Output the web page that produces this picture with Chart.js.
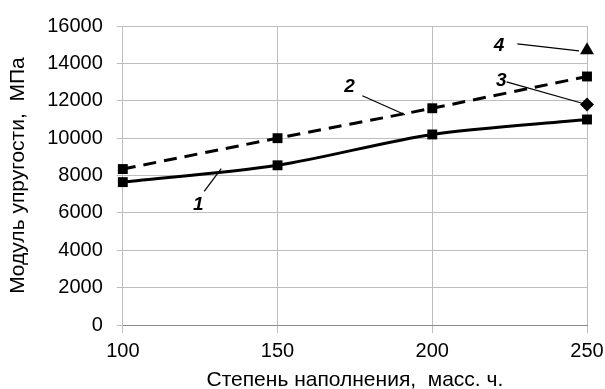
<!DOCTYPE html>
<html>
<head>
<meta charset="utf-8">
<script src="https://cdn.jsdelivr.net/npm/chart.js@4"></script>
<style>
  html, body { margin: 0; padding: 0; background: #fff; }
  #wrap { width: 605px; height: 389px; }
</style>
</head>
<body>
<div id="wrap"><canvas id="c"></canvas></div>
<script>
/* ── данные ── */
var fillLevels = [100, 150, 200, 250];
var curve1 = [7650, 8550, 10200, 11000];
var curve2 = [8350, 10000, 11600, 13300];
var point3X = [250];
var point3 = [11800];
var point4X = [250];
var point4 = [14700];
var yTicks = [0, 2000, 4000, 6000, 8000, 10000, 12000, 14000, 16000];

// подписи кривых: текст, позиция текста и выноска (в единицах осей)
var curveLabels = [
  { text: '1', x: 124.4, y: 6450, from: [126.3, 7150], to: [131.8, 8370] },
  { text: '2', x: 173.3, y: 12750, from: [177.4, 12270], to: [191.2, 11250] },
  { text: '3', x: 222.3, y: 13050, from: [224.0, 13010], to: [249.0, 11840] },
  { text: '4', x: 221.6, y: 14950, from: [227.5, 15040], to: [247.4, 14670] }
];

function toXY(xs, ys) {
  return xs.map(function(x, i) { return { x: x, y: ys[i] }; });
}

var FONT = "'Liberation Sans', Arial, sans-serif";
var GRID = '#bdbdbd';

/* ── подписи 1–4 с выносками ── */
var labelPlugin = {
  id: 'curveLabels',
  afterDatasetsDraw: function(chart) {
    var ctx = chart.ctx, sx = chart.scales.x, sy = chart.scales.y;
    ctx.save();
    ctx.strokeStyle = '#000';
    ctx.lineWidth = 1.2;
    ctx.fillStyle = '#000';
    ctx.font = "italic bold 19px " + FONT;
    ctx.textAlign = 'center';
    ctx.textBaseline = 'middle';
    curveLabels.forEach(function(l) {
      ctx.beginPath();
      ctx.moveTo(sx.getPixelForValue(l.from[0]), sy.getPixelForValue(l.from[1]));
      ctx.lineTo(sx.getPixelForValue(l.to[0]), sy.getPixelForValue(l.to[1]));
      ctx.stroke();
      ctx.fillText(l.text, sx.getPixelForValue(l.x), sy.getPixelForValue(l.y));
    });
    ctx.restore();
  }
};

new Chart(document.getElementById('c').getContext('2d'), {
  type: 'line',
  data: {
    datasets: [{
      label: '1',
      data: toXY(fillLevels, curve1),
      borderColor: '#000', backgroundColor: '#000',
      borderWidth: 3, tension: 0.3, clip: false,
      pointStyle: 'rect', pointRadius: 7, pointBorderWidth: 0
    }, {
      label: '2',
      data: toXY(fillLevels, curve2),
      borderColor: '#000', backgroundColor: '#000',
      borderWidth: 3, tension: 0.15, borderDash: [13, 8], clip: false,
      pointStyle: 'rect', pointRadius: 7, pointBorderWidth: 0
    }, {
      label: '3',
      data: toXY(point3X, point3),
      borderColor: '#000', backgroundColor: '#000',
      showLine: false, clip: false,
      pointStyle: 'rectRot', pointRadius: 7, pointBorderWidth: 0
    }, {
      label: '4',
      data: toXY(point4X, point4),
      borderColor: '#000', backgroundColor: '#000',
      showLine: false, clip: false,
      pointStyle: 'triangle', pointRadius: 8, pointBorderWidth: 0
    }]
  },
  options: {
    responsive: true,
    maintainAspectRatio: false,
    animation: false,
    layout: { padding: { top: 12, right: 0, left: 6, bottom: 0 } },
    plugins: { legend: { display: false }, tooltip: { enabled: false } },
    scales: {
      x: {
        type: 'linear', min: 100, max: 250,
        afterBuildTicks: function(axis) {
          axis.ticks = fillLevels.map(function(v) { return { value: v }; });
        },
        afterFit: function(axis) {
          // подпись «250» немного выходит за край, как в оригинале
          axis.paddingRight = 18;
        },
        grid: { color: GRID, tickLength: 8 },
        border: { color: '#8c8c8c' },
        ticks: {
          color: '#000', font: { family: FONT, size: 20, lineHeight: 1.0 }, padding: 8, maxRotation: 0,
          callback: function(v) { return String(v); }
        },
        title: {
          display: true, text: 'Степень наполнения,  масс. ч.',
          color: '#000', font: { family: FONT, size: 21, lineHeight: 0.85 }, padding: { top: 2, bottom: 0 }
        }
      },
      y: {
        min: 0, max: 16000,
        afterBuildTicks: function(axis) {
          axis.ticks = yTicks.map(function(v) { return { value: v }; });
        },
        grid: { color: GRID, tickLength: 6 },
        border: { color: GRID },
        ticks: {
          color: '#000', font: { family: FONT, size: 20 }, padding: 14,
          callback: function(v) { return String(v); }
        },
        title: {
          display: true, text: 'Модуль упругости,  МПа',
          color: '#000', font: { family: FONT, size: 21 }, padding: { top: 0, bottom: 2 }
        }
      }
    }
  },
  plugins: [labelPlugin]
});
</script>
</body>
</html>
